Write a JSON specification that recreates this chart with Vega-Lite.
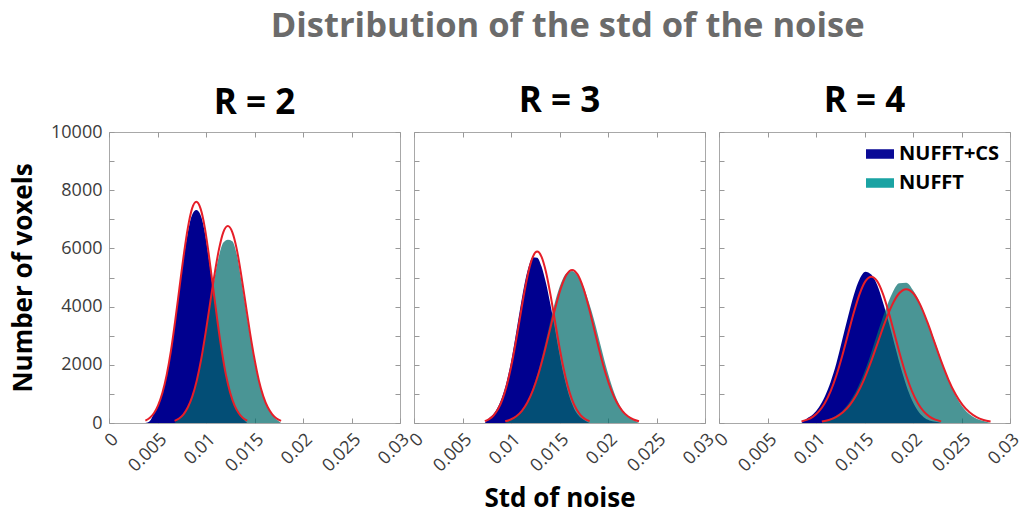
{
 "$schema": "https://vega.github.io/schema/vega-lite/v6.json",
 "background": "white",
 "padding": {"left": 10, "top": 8, "right": 2, "bottom": 2},
 "datasets": {"d": [
  {"p":2,"s":"NUFFT+CS","x":0.00375,"h":0,"f":84},{"p":2,"s":"NUFFT+CS","x":0.00419,"h":60,"f":173},{"p":2,"s":"NUFFT+CS","x":0.00463,"h":330,"f":334},{"p":2,"s":"NUFFT+CS","x":0.00506,"h":600,"f":605},{"p":2,"s":"NUFFT+CS","x":0.0055,"h":1030,"f":1028},{"p":2,"s":"NUFFT+CS","x":0.00594,"h":1650,"f":1644},{"p":2,"s":"NUFFT+CS","x":0.00638,"h":2470,"f":2468},{"p":2,"s":"NUFFT+CS","x":0.00681,"h":3470,"f":3479},{"p":2,"s":"NUFFT+CS","x":0.00725,"h":4580,"f":4609},{"p":2,"s":"NUFFT+CS","x":0.00769,"h":5650,"f":5736},{"p":2,"s":"NUFFT+CS","x":0.00813,"h":6550,"f":6707},{"p":2,"s":"NUFFT+CS","x":0.00856,"h":7150,"f":7366},{"p":2,"s":"NUFFT+CS","x":0.009,"h":7320,"f":7600},{"p":2,"s":"NUFFT+CS","x":0.00944,"h":7150,"f":7366},{"p":2,"s":"NUFFT+CS","x":0.00988,"h":6550,"f":6707},{"p":2,"s":"NUFFT+CS","x":0.01031,"h":5600,"f":5736},{"p":2,"s":"NUFFT+CS","x":0.01075,"h":4520,"f":4609},{"p":2,"s":"NUFFT+CS","x":0.01119,"h":3420,"f":3479},{"p":2,"s":"NUFFT+CS","x":0.01163,"h":2420,"f":2468},{"p":2,"s":"NUFFT+CS","x":0.01206,"h":1600,"f":1644},{"p":2,"s":"NUFFT+CS","x":0.0125,"h":1000,"f":1028},{"p":2,"s":"NUFFT+CS","x":0.01294,"h":590,"f":605},{"p":2,"s":"NUFFT+CS","x":0.01338,"h":320,"f":334},{"p":2,"s":"NUFFT+CS","x":0.01381,"h":150,"f":173},{"p":2,"s":"NUFFT+CS","x":0.01425,"h":0,"f":84},
  {"p":2,"s":"NUFFT","x":0.00676,"h":0,"f":75},{"p":2,"s":"NUFFT","x":0.00722,"h":140,"f":154},{"p":2,"s":"NUFFT","x":0.00768,"h":290,"f":297},{"p":2,"s":"NUFFT","x":0.00813,"h":530,"f":539},{"p":2,"s":"NUFFT","x":0.00859,"h":900,"f":916},{"p":2,"s":"NUFFT","x":0.00905,"h":1440,"f":1464},{"p":2,"s":"NUFFT","x":0.00951,"h":2160,"f":2198},{"p":2,"s":"NUFFT","x":0.00996,"h":3040,"f":3099},{"p":2,"s":"NUFFT","x":0.01042,"h":4020,"f":4106},{"p":2,"s":"NUFFT","x":0.01088,"h":4980,"f":5110},{"p":2,"s":"NUFFT","x":0.01134,"h":5750,"f":5975},{"p":2,"s":"NUFFT","x":0.01179,"h":6200,"f":6561},{"p":2,"s":"NUFFT","x":0.01225,"h":6300,"f":6770},{"p":2,"s":"NUFFT","x":0.01271,"h":6250,"f":6561},{"p":2,"s":"NUFFT","x":0.01317,"h":5800,"f":5975},{"p":2,"s":"NUFFT","x":0.01362,"h":4950,"f":5110},{"p":2,"s":"NUFFT","x":0.01408,"h":3980,"f":4106},{"p":2,"s":"NUFFT","x":0.01454,"h":3020,"f":3099},{"p":2,"s":"NUFFT","x":0.015,"h":2140,"f":2198},{"p":2,"s":"NUFFT","x":0.01545,"h":1420,"f":1464},{"p":2,"s":"NUFFT","x":0.01591,"h":890,"f":916},{"p":2,"s":"NUFFT","x":0.01637,"h":520,"f":539},{"p":2,"s":"NUFFT","x":0.01683,"h":280,"f":297},{"p":2,"s":"NUFFT","x":0.01728,"h":120,"f":154},{"p":2,"s":"NUFFT","x":0.01774,"h":0,"f":75},
  {"p":3,"s":"NUFFT+CS","x":0.0073,"h":0,"f":65},{"p":3,"s":"NUFFT+CS","x":0.00775,"h":170,"f":134},{"p":3,"s":"NUFFT+CS","x":0.0082,"h":310,"f":259},{"p":3,"s":"NUFFT+CS","x":0.00865,"h":550,"f":469},{"p":3,"s":"NUFFT+CS","x":0.0091,"h":910,"f":797},{"p":3,"s":"NUFFT+CS","x":0.00955,"h":1420,"f":1274},{"p":3,"s":"NUFFT+CS","x":0.01,"h":2100,"f":1912},{"p":3,"s":"NUFFT+CS","x":0.01045,"h":2950,"f":2696},{"p":3,"s":"NUFFT+CS","x":0.0109,"h":3850,"f":3572},{"p":3,"s":"NUFFT+CS","x":0.01135,"h":4700,"f":4446},{"p":3,"s":"NUFFT+CS","x":0.0118,"h":5350,"f":5198},{"p":3,"s":"NUFFT+CS","x":0.01225,"h":5700,"f":5709},{"p":3,"s":"NUFFT+CS","x":0.0127,"h":5680,"f":5890},{"p":3,"s":"NUFFT+CS","x":0.01315,"h":5380,"f":5709},{"p":3,"s":"NUFFT+CS","x":0.0136,"h":4820,"f":5198},{"p":3,"s":"NUFFT+CS","x":0.01405,"h":4100,"f":4446},{"p":3,"s":"NUFFT+CS","x":0.0145,"h":3300,"f":3572},{"p":3,"s":"NUFFT+CS","x":0.01495,"h":2450,"f":2696},{"p":3,"s":"NUFFT+CS","x":0.0154,"h":1700,"f":1912},{"p":3,"s":"NUFFT+CS","x":0.01585,"h":1100,"f":1274},{"p":3,"s":"NUFFT+CS","x":0.0163,"h":650,"f":797},{"p":3,"s":"NUFFT+CS","x":0.01675,"h":350,"f":469},{"p":3,"s":"NUFFT+CS","x":0.0172,"h":180,"f":259},{"p":3,"s":"NUFFT+CS","x":0.01765,"h":80,"f":134},{"p":3,"s":"NUFFT+CS","x":0.0181,"h":0,"f":65},
  {"p":3,"s":"NUFFT","x":0.0094,"h":0,"f":58},{"p":3,"s":"NUFFT","x":0.009975,"h":130,"f":120},{"p":3,"s":"NUFFT","x":0.01055,"h":250,"f":231},{"p":3,"s":"NUFFT","x":0.011125,"h":450,"f":419},{"p":3,"s":"NUFFT","x":0.0117,"h":760,"f":712},{"p":3,"s":"NUFFT","x":0.012275,"h":1220,"f":1138},{"p":3,"s":"NUFFT","x":0.01285,"h":1830,"f":1708},{"p":3,"s":"NUFFT","x":0.013425,"h":2600,"f":2408},{"p":3,"s":"NUFFT","x":0.014,"h":3420,"f":3190},{"p":3,"s":"NUFFT","x":0.014575,"h":4200,"f":3970},{"p":3,"s":"NUFFT","x":0.01515,"h":4800,"f":4642},{"p":3,"s":"NUFFT","x":0.015725,"h":5150,"f":5098},{"p":3,"s":"NUFFT","x":0.0163,"h":5220,"f":5260},{"p":3,"s":"NUFFT","x":0.016875,"h":5050,"f":5098},{"p":3,"s":"NUFFT","x":0.01745,"h":4700,"f":4642},{"p":3,"s":"NUFFT","x":0.018025,"h":4150,"f":3970},{"p":3,"s":"NUFFT","x":0.0186,"h":3500,"f":3190},{"p":3,"s":"NUFFT","x":0.019175,"h":2750,"f":2408},{"p":3,"s":"NUFFT","x":0.01975,"h":2000,"f":1708},{"p":3,"s":"NUFFT","x":0.020325,"h":1350,"f":1138},{"p":3,"s":"NUFFT","x":0.0209,"h":820,"f":712},{"p":3,"s":"NUFFT","x":0.021475,"h":450,"f":419},{"p":3,"s":"NUFFT","x":0.02205,"h":220,"f":231},{"p":3,"s":"NUFFT","x":0.022625,"h":100,"f":120},{"p":3,"s":"NUFFT","x":0.0232,"h":0,"f":58},
  {"p":4,"s":"NUFFT+CS","x":0.0085,"h":0,"f":56},{"p":4,"s":"NUFFT+CS","x":0.0091,"h":160,"f":115},{"p":4,"s":"NUFFT+CS","x":0.0097,"h":300,"f":221},{"p":4,"s":"NUFFT+CS","x":0.0103,"h":540,"f":400},{"p":4,"s":"NUFFT+CS","x":0.0109,"h":900,"f":681},{"p":4,"s":"NUFFT+CS","x":0.0115,"h":1400,"f":1088},{"p":4,"s":"NUFFT+CS","x":0.0121,"h":2050,"f":1633},{"p":4,"s":"NUFFT+CS","x":0.0127,"h":2850,"f":2303},{"p":4,"s":"NUFFT+CS","x":0.0133,"h":3650,"f":3051},{"p":4,"s":"NUFFT+CS","x":0.0139,"h":4400,"f":3797},{"p":4,"s":"NUFFT+CS","x":0.0145,"h":4950,"f":4439},{"p":4,"s":"NUFFT+CS","x":0.0151,"h":5200,"f":4875},{"p":4,"s":"NUFFT+CS","x":0.0157,"h":5100,"f":5030},{"p":4,"s":"NUFFT+CS","x":0.0163,"h":4750,"f":4875},{"p":4,"s":"NUFFT+CS","x":0.0169,"h":4150,"f":4439},{"p":4,"s":"NUFFT+CS","x":0.0175,"h":3450,"f":3797},{"p":4,"s":"NUFFT+CS","x":0.0181,"h":2700,"f":3051},{"p":4,"s":"NUFFT+CS","x":0.0187,"h":1950,"f":2303},{"p":4,"s":"NUFFT+CS","x":0.0193,"h":1300,"f":1633},{"p":4,"s":"NUFFT+CS","x":0.0199,"h":780,"f":1088},{"p":4,"s":"NUFFT+CS","x":0.0205,"h":420,"f":681},{"p":4,"s":"NUFFT+CS","x":0.0211,"h":200,"f":400},{"p":4,"s":"NUFFT+CS","x":0.0217,"h":90,"f":221},{"p":4,"s":"NUFFT+CS","x":0.0223,"h":40,"f":115},{"p":4,"s":"NUFFT+CS","x":0.0229,"h":0,"f":56},
  {"p":4,"s":"NUFFT","x":0.0106,"h":0,"f":51},{"p":4,"s":"NUFFT","x":0.011325,"h":130,"f":105},{"p":4,"s":"NUFFT","x":0.01205,"h":250,"f":202},{"p":4,"s":"NUFFT","x":0.012775,"h":440,"f":366},{"p":4,"s":"NUFFT","x":0.0135,"h":740,"f":622},{"p":4,"s":"NUFFT","x":0.014225,"h":1160,"f":995},{"p":4,"s":"NUFFT","x":0.01495,"h":1720,"f":1494},{"p":4,"s":"NUFFT","x":0.015675,"h":2400,"f":2106},{"p":4,"s":"NUFFT","x":0.0164,"h":3150,"f":2790},{"p":4,"s":"NUFFT","x":0.017125,"h":3850,"f":3472},{"p":4,"s":"NUFFT","x":0.01785,"h":4450,"f":4060},{"p":4,"s":"NUFFT","x":0.018575,"h":4800,"f":4458},{"p":4,"s":"NUFFT","x":0.0193,"h":4820,"f":4600},{"p":4,"s":"NUFFT","x":0.020025,"h":4550,"f":4458},{"p":4,"s":"NUFFT","x":0.02075,"h":4100,"f":4060},{"p":4,"s":"NUFFT","x":0.021475,"h":3500,"f":3472},{"p":4,"s":"NUFFT","x":0.0222,"h":2850,"f":2790},{"p":4,"s":"NUFFT","x":0.022925,"h":2150,"f":2106},{"p":4,"s":"NUFFT","x":0.02365,"h":1500,"f":1494},{"p":4,"s":"NUFFT","x":0.024375,"h":950,"f":995},{"p":4,"s":"NUFFT","x":0.0251,"h":560,"f":622},{"p":4,"s":"NUFFT","x":0.025825,"h":300,"f":366},{"p":4,"s":"NUFFT","x":0.02655,"h":150,"f":202},{"p":4,"s":"NUFFT","x":0.027275,"h":70,"f":105},{"p":4,"s":"NUFFT","x":0.028,"h":0,"f":51}
 ]},
 "data": {"name": "d"},
 "title": {"text": "Distribution of the std of the noise", "fontSize": 34.5, "color": "#6b6b6b", "font": "Open Sans", "fontWeight": "bold", "anchor": "middle", "offset": 39, "dx": 51},
 "spacing": -16,
 "hconcat": [
  {
   "width": 291, "height": 291,
   "title": {"text": "R = 2", "offset": 2},
   "layer": [
    {"transform": [{"filter": "datum.p == 2 && datum.s == 'NUFFT+CS'"}],
     "mark": {"type": "area", "color": "#00008f", "interpolate": "monotone"},
     "encoding": {
      "x": {"field": "x", "type": "quantitative", "scale": {"domain": [0, 0.03], "nice": false}, "axis": {"orient": "bottom", "values": [0, 0.005, 0.01, 0.015, 0.02, 0.025, 0.03], "format": "~g", "labelAngle": -45, "title": null}},
      "y": {"field": "h", "type": "quantitative", "scale": {"domain": [0, 10000], "nice": false}, "axis": {"orient": "left", "values": [0, 1000, 2000, 3000, 4000, 5000, 6000, 7000, 8000, 9000, 10000], "format": "d", "labelExpr": "datum.value % 2000 == 0 ? datum.label : ''", "title": "Number of voxels", "titlePadding": 14}}
     }},
    {"transform": [{"filter": "datum.p == 2 && datum.s == 'NUFFT'"}],
     "mark": {"type": "area", "color": "#046c6c", "opacity": 0.72, "interpolate": "monotone"},
     "encoding": {
      "x": {"field": "x", "type": "quantitative", "axis": {"orient": "top", "values": [0, 0.005, 0.01, 0.015, 0.02, 0.025, 0.03], "labels": false, "title": null}},
      "y": {"field": "h", "type": "quantitative", "axis": {"orient": "right", "values": [0, 1000, 2000, 3000, 4000, 5000, 6000, 7000, 8000, 9000, 10000], "labels": false, "title": null}}
     }},
    {"transform": [{"filter": "datum.p == 2"}],
     "mark": {"type": "line", "color": "#e61e28", "strokeWidth": 2, "interpolate": "monotone"},
     "encoding": {
      "x": {"field": "x", "type": "quantitative", "axis": null},
      "y": {"field": "f", "type": "quantitative", "axis": null},
      "detail": {"field": "s"}
     }}
   ],
   "resolve": {"axis": {"x": "independent", "y": "independent"}}
  },
  {
   "width": 291, "height": 291,
   "title": {"text": "R = 3", "offset": 13},
   "layer": [
    {"transform": [{"filter": "datum.p == 3 && datum.s == 'NUFFT+CS'"}],
     "mark": {"type": "area", "color": "#00008f", "interpolate": "monotone"},
     "encoding": {
      "x": {"field": "x", "type": "quantitative", "scale": {"domain": [0, 0.03], "nice": false}, "axis": {"orient": "bottom", "values": [0, 0.005, 0.01, 0.015, 0.02, 0.025, 0.03], "format": "~g", "labelAngle": -45, "title": "Std of noise", "titlePadding": 10}},
      "y": {"field": "h", "type": "quantitative", "scale": {"domain": [0, 10000], "nice": false}, "axis": {"orient": "left", "values": [0, 1000, 2000, 3000, 4000, 5000, 6000, 7000, 8000, 9000, 10000], "labels": false, "title": null}}
     }},
    {"transform": [{"filter": "datum.p == 3 && datum.s == 'NUFFT'"}],
     "mark": {"type": "area", "color": "#046c6c", "opacity": 0.72, "interpolate": "monotone"},
     "encoding": {
      "x": {"field": "x", "type": "quantitative", "axis": {"orient": "top", "values": [0, 0.005, 0.01, 0.015, 0.02, 0.025, 0.03], "labels": false, "title": null}},
      "y": {"field": "h", "type": "quantitative", "axis": {"orient": "right", "values": [0, 1000, 2000, 3000, 4000, 5000, 6000, 7000, 8000, 9000, 10000], "labels": false, "title": null}}
     }},
    {"transform": [{"filter": "datum.p == 3"}],
     "mark": {"type": "line", "color": "#e61e28", "strokeWidth": 2, "interpolate": "monotone"},
     "encoding": {
      "x": {"field": "x", "type": "quantitative", "axis": null},
      "y": {"field": "f", "type": "quantitative", "axis": null},
      "detail": {"field": "s"}
     }}
   ],
   "resolve": {"axis": {"x": "independent", "y": "independent"}}
  },
  {
   "width": 291, "height": 291,
   "title": {"text": "R = 4", "offset": 13},
   "layer": [
    {"transform": [{"filter": "datum.p == 4 && datum.s == 'NUFFT+CS'"}],
     "mark": {"type": "area", "color": "#00008f", "interpolate": "monotone"},
     "encoding": {
      "x": {"field": "x", "type": "quantitative", "scale": {"domain": [0, 0.03], "nice": false}, "axis": {"orient": "bottom", "values": [0, 0.005, 0.01, 0.015, 0.02, 0.025, 0.03], "format": "~g", "labelAngle": -45, "title": null}},
      "y": {"field": "h", "type": "quantitative", "scale": {"domain": [0, 10000], "nice": false}, "axis": {"orient": "left", "values": [0, 1000, 2000, 3000, 4000, 5000, 6000, 7000, 8000, 9000, 10000], "labels": false, "title": null}}
     }},
    {"transform": [{"filter": "datum.p == 4 && datum.s == 'NUFFT'"}],
     "mark": {"type": "area", "color": "#046c6c", "opacity": 0.72, "interpolate": "monotone"},
     "encoding": {
      "x": {"field": "x", "type": "quantitative", "axis": {"orient": "top", "values": [0, 0.005, 0.01, 0.015, 0.02, 0.025, 0.03], "labels": false, "title": null}},
      "y": {"field": "h", "type": "quantitative", "axis": {"orient": "right", "values": [0, 1000, 2000, 3000, 4000, 5000, 6000, 7000, 8000, 9000, 10000], "labels": false, "title": null}}
     }},
    {"transform": [{"filter": "datum.p == 4"}],
     "mark": {"type": "line", "color": "#e61e28", "strokeWidth": 2, "interpolate": "monotone"},
     "encoding": {
      "x": {"field": "x", "type": "quantitative", "axis": null},
      "y": {"field": "f", "type": "quantitative", "axis": null},
      "detail": {"field": "s"}
     }},
    {"transform": [{"filter": "datum.p == 4"}],
     "mark": {"type": "point", "filled": true, "opacity": 0},
     "encoding": {
      "x": {"field": "x", "type": "quantitative", "axis": null},
      "y": {"field": "f", "type": "quantitative", "axis": null},
      "color": {"field": "s", "type": "nominal", "scale": {"domain": ["NUFFT+CS", "NUFFT"], "range": ["#0a0a96", "#1aa3a3"]}, "legend": {"title": null, "orient": "none", "legendX": 757, "legendY": 8}}
     }}
   ],
   "resolve": {"axis": {"x": "independent", "y": "independent"}}
  }
 ],
 "config": {
  "font": "Open Sans",
  "view": {"stroke": "#a8a8a8", "strokeWidth": 1},
  "axis": {"domain": false, "grid": false, "minExtent": 0, "tickColor": "#999999", "tickSize": -5, "labelPadding": 12, "labelFont": "Open Sans", "labelFontSize": 18, "labelColor": "#3c3c3c", "labelFlush": false, "labelOverlap": false, "titleFont": "Open Sans", "titleFontSize": 26, "titleFontWeight": "bold", "titleColor": "#000000"},
  "title": {"font": "Open Sans", "fontSize": 35, "fontWeight": "bold", "color": "#000000", "anchor": "middle", "offset": 13},
  "legend": {"labelFont": "Open Sans", "labelFontSize": 20, "labelFontWeight": "bold", "labelColor": "#000000", "symbolType": "M-1,-0.34H1V0.34H-1Z", "symbolSize": 784, "symbolOpacity": 1, "symbolStrokeWidth": 0, "rowPadding": 5, "labelOffset": 5}
 }
}
